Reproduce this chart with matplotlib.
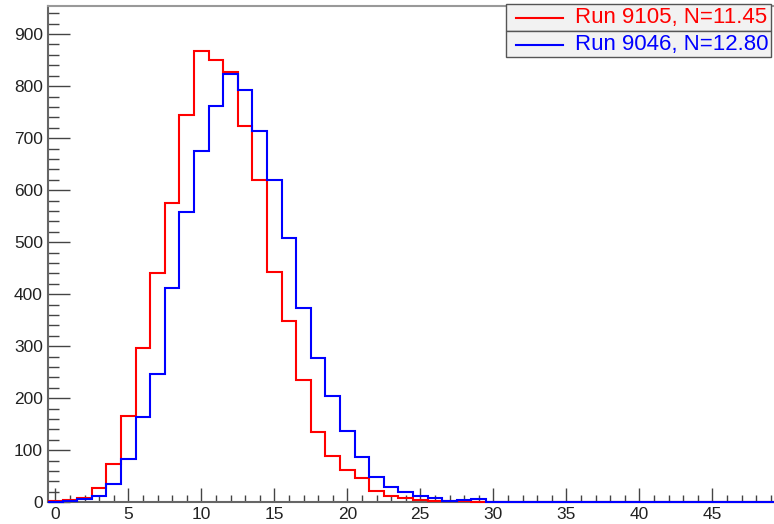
import matplotlib
matplotlib.use("Agg")
import matplotlib.pyplot as plt
import numpy as np
from matplotlib.patches import Rectangle
from matplotlib.lines import Line2D
from matplotlib.ticker import MultipleLocator

plt.rcParams['font.family'] = ['Liberation Sans', 'DejaVu Sans']

# Histogram contents, bins of width 1 centred on 0..49
red_counts = [2, 5, 8, 27, 74, 166, 296, 440, 576, 745, 867, 851, 828, 724, 619,
              442, 349, 235, 135, 89, 63, 47, 21, 12, 8, 5, 3, 2, 2, 1,
              0, 0, 0, 0, 0, 0, 0, 0, 0, 0, 0, 0, 0, 0, 0, 0, 0, 0, 0, 0]
blue_counts = [1, 2, 6, 12, 36, 83, 164, 247, 411, 558, 676, 761, 823, 792, 714,
               619, 508, 374, 277, 204, 138, 87, 49, 29, 20, 13, 8, 3, 5, 6,
               0, 0, 0, 0, 0, 0, 0, 0, 0, 0, 0, 0, 0, 0, 0, 0, 0, 0, 0, 0]
bin_edges = np.arange(-0.5, 50.0, 1.0)
labels = ["Run 9105, N=11.45", "Run 9046, N=12.80"]
colors = ["#ff0000", "#0000ff"]

W, H = 774, 524
fig = plt.figure(figsize=(W / 100, H / 100), dpi=100)
ax = fig.add_axes([48 / W, (H - 502.3) / H, (778 - 48) / W, (502.3 - 6) / H])

ax.stairs(red_counts, bin_edges, color=colors[0], lw=1.5, baseline=None,
          zorder=3, clip_on=False)
ax.stairs(blue_counts, bin_edges, color=colors[1], lw=1.5, baseline=None,
          zorder=3.1, clip_on=False)

ax.set_xlim(-0.5, 49.5)
ax.set_ylim(0, 954)

ax.xaxis.set_major_locator(MultipleLocator(5))
ax.xaxis.set_minor_locator(MultipleLocator(1))
ax.yaxis.set_major_locator(MultipleLocator(100))
ax.yaxis.set_minor_locator(MultipleLocator(20))

ax.tick_params(axis='both', which='both', direction='in', colors='#444444',
               labelcolor='#222222', labelsize=12.5, width=1.0)
ax.tick_params(axis='y', which='major', length=16, pad=3.6)
ax.tick_params(axis='y', which='minor', length=8)
ax.tick_params(axis='x', which='major', length=10, pad=3.5)
ax.tick_params(axis='x', which='minor', length=5)

for s in ['left', 'bottom']:
    ax.spines[s].set_color('#666666')
    ax.spines[s].set_linewidth(1.5)
ax.spines['top'].set_color('#999999')
ax.spines['top'].set_linewidth(1.5)
ax.spines['right'].set_color('#999999')

# Legend drawn as two stacked boxes in figure pixels
def fx(px):
    return px / W

def fy(py):
    return (H - py) / H

rows = [(4, 31), (31, 57)]
for (y0, y1), lab, col in zip(rows, labels, colors):
    fig.patches.append(Rectangle((fx(506), fy(y1)), fx(771) - fx(506), fy(y0) - fy(y1),
                                 transform=fig.transFigure, facecolor='#f2f2f2',
                                 edgecolor='#555555', lw=1.0, zorder=5))
    yc = (y0 + y1) / 2 + 0.5
    fig.lines.append(Line2D([fx(516), fx(563)], [fy(yc), fy(yc)], transform=fig.transFigure,
                            color=col, lw=1.5, zorder=6))
    fig.text(fx(575), fy(yc), lab, color=col, fontsize=16, va='center', ha='left', zorder=7)

fig.savefig("out.png", dpi=100)
